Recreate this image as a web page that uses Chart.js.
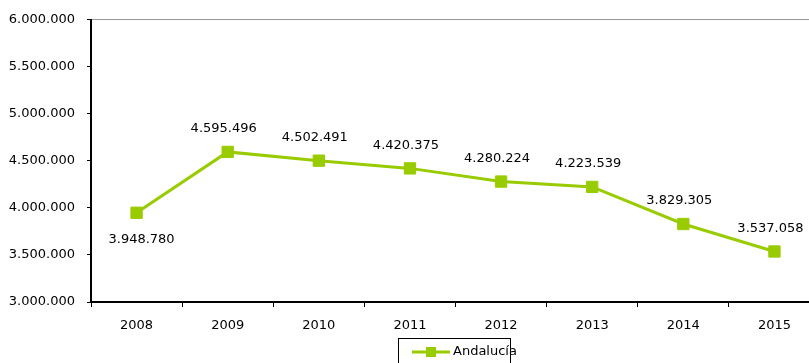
<!DOCTYPE html>
<html>
<head>
<meta charset="utf-8">
<script src="https://cdn.jsdelivr.net/npm/chart.js@4.4.1/dist/chart.umd.min.js"></script>
<style>
html,body{margin:0;padding:0;background:#fff;overflow:hidden;width:809px;height:363px;}
#c{display:block;}
</style>
</head>
<body>
<canvas id="c" width="822" height="363" style="width:822px;height:363px;"></canvas>
<script>
const categories = ['2008','2009','2010','2011','2012','2013','2014','2015'];
const seriesName = 'Andalucía';
const andalucia = [3948780, 4595496, 4502491, 4420375, 4280224, 4223539, 3829305, 3537058];
const yTicks = [3000000, 3500000, 4000000, 4500000, 5000000, 5500000, 6000000];

const FONT = '"DejaVu Sans", sans-serif';
const GREEN = '#99CC00';
const fmt = v => Math.round(v).toString().replace(/\B(?=(\d{3})+(?!\d))/g, '.');

const labelPlugin = {
  id: 'dataLabels',
  afterDatasetsDraw(chart) {
    const ctx = chart.ctx;
    const meta = chart.getDatasetMeta(0);
    ctx.save();
    ctx.font = '13px ' + FONT;
    ctx.fillStyle = '#000';
    ctx.textAlign = 'center';
    ctx.textBaseline = 'middle';
    meta.data.forEach((pt, i) => {
      const below = i === 0;
      ctx.fillText(fmt(andalucia[i]), pt.x + (below ? 5 : -4), pt.y + (below ? 27 : -23));
    });
    ctx.restore();
  }
};

const legendPlugin = {
  id: 'boxLegend',
  afterDraw(chart) {
    const ctx = chart.ctx;
    ctx.save();
    ctx.strokeStyle = '#000';
    ctx.lineWidth = 1;
    ctx.strokeRect(398.5, 338.5, 112, 40);
    ctx.strokeStyle = GREEN;
    ctx.lineWidth = 3;
    ctx.beginPath();
    ctx.moveTo(412, 352);
    ctx.lineTo(450, 352);
    ctx.stroke();
    ctx.fillStyle = GREEN;
    ctx.fillRect(426, 347, 10, 10);
    ctx.fillStyle = '#000';
    ctx.font = '13px ' + FONT;
    ctx.textAlign = 'left';
    ctx.textBaseline = 'middle';
    ctx.fillText(seriesName, 453, 352);
    ctx.restore();
  }
};

new Chart(document.getElementById('c'), {
  type: 'line',
  data: {
    labels: categories,
    datasets: [{
      label: seriesName,
      data: andalucia,
      borderColor: GREEN,
      backgroundColor: GREEN,
      borderWidth: 3,
      pointStyle: 'rect',
      pointRadius: 8,
      pointBorderWidth: 1,
      pointBorderColor: GREEN,
      pointBackgroundColor: GREEN,
      tension: 0,
      fill: false,
      clip: false
    }]
  },
  options: {
    responsive: false,
    maintainAspectRatio: false,
    devicePixelRatio: 1,
    animation: false,
    events: [],
    layout: { autoPadding: false, padding: { top: 19, right: 2, bottom: 31, left: 0 } },
    plugins: { legend: { display: false }, tooltip: { enabled: false } },
    scales: {
      x: {
        offset: true,
        grid: { offset: true, drawOnChartArea: false, tickColor: '#000', tickLength: 5, lineWidth: 1 },
        border: { color: '#000', width: 2 },
        ticks: { color: '#000', font: { family: FONT, size: 13 }, padding: 11, maxRotation: 0 },
        afterFit(s) { s.height = 30; }
      },
      y: {
        min: 3000000, max: 6000000,
        afterBuildTicks(s) { s.ticks = yTicks.map(v => ({ value: v })); },
        grid: {
          color: c => (c.tick && c.tick.value === 6000000) ? '#999' : 'rgba(0,0,0,0)',
          tickColor: '#000', tickLength: 4, lineWidth: 1
        },
        border: { color: '#000', width: 2 },
        ticks: { color: '#000', font: { family: FONT, size: 13 }, padding: 12, callback: v => fmt(v) },
        afterFit(s) { s.width = 91; }
      }
    }
  },
  plugins: [labelPlugin, legendPlugin]
});
</script>
</body>
</html>
